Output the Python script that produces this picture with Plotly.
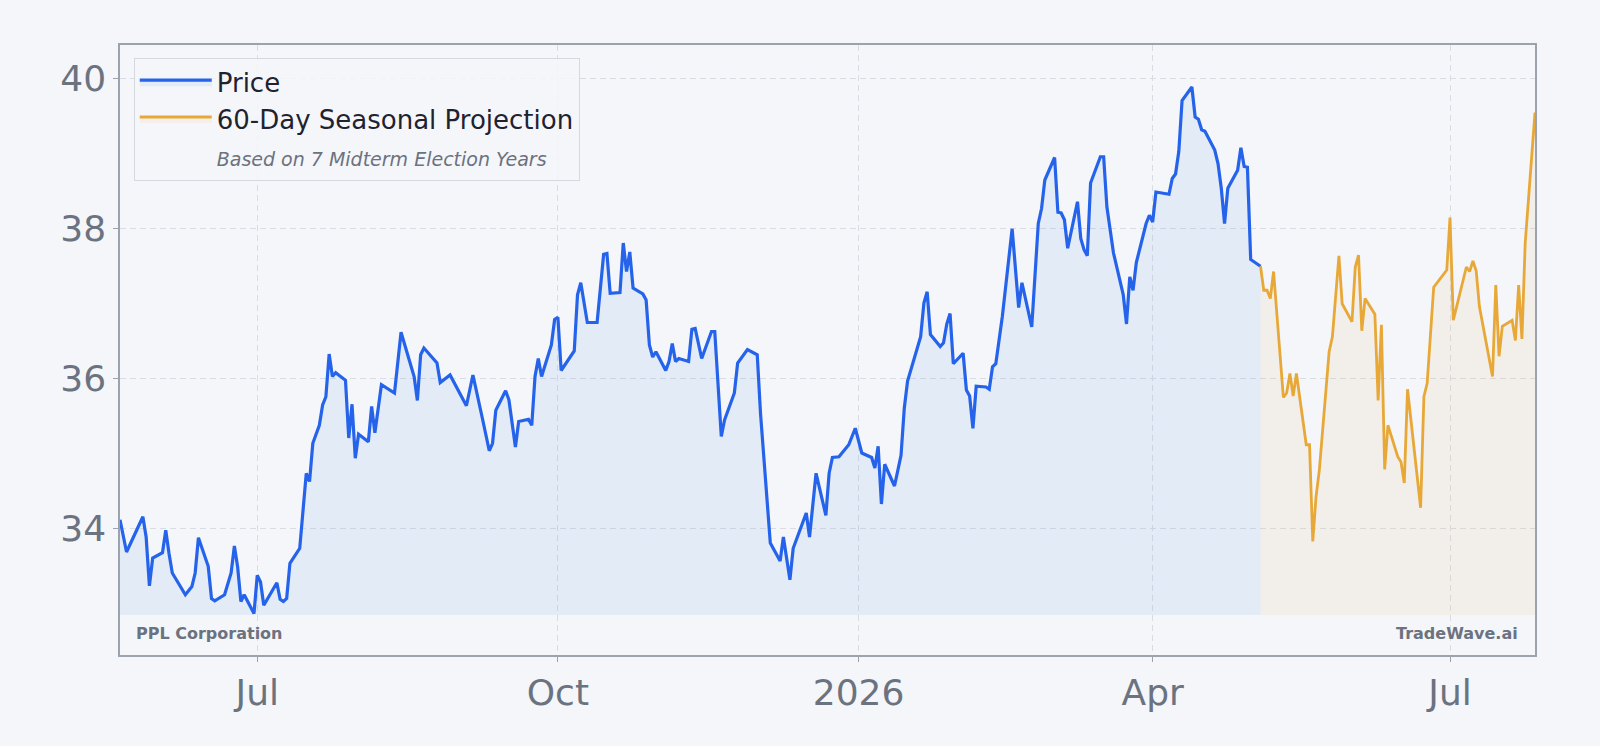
import plotly.graph_objects as go

# ---------------- data ----------------
price_dates = [
    "2025-05-20", "2025-05-22", "2025-05-27", "2025-05-28", "2025-05-29", "2025-05-30",
    "2025-06-02", "2025-06-03", "2025-06-04", "2025-06-05", "2025-06-09", "2025-06-11",
    "2025-06-12", "2025-06-13", "2025-06-16", "2025-06-17", "2025-06-18", "2025-06-21",
    "2025-06-23", "2025-06-24", "2025-06-25", "2025-06-26", "2025-06-27", "2025-06-30",
    "2025-07-01", "2025-07-02", "2025-07-03", "2025-07-07", "2025-07-08", "2025-07-09",
    "2025-07-10", "2025-07-11", "2025-07-14", "2025-07-15", "2025-07-16", "2025-07-17",
    "2025-07-18", "2025-07-20", "2025-07-21", "2025-07-22", "2025-07-23", "2025-07-24",
    "2025-07-25", "2025-07-28", "2025-07-29", "2025-07-30", "2025-07-31", "2025-08-01",
    "2025-08-04", "2025-08-05", "2025-08-06", "2025-08-08", "2025-08-11", "2025-08-12",
    "2025-08-14", "2025-08-18", "2025-08-19", "2025-08-20", "2025-08-21", "2025-08-25",
    "2025-08-26", "2025-08-29", "2025-09-03", "2025-09-05", "2025-09-08", "2025-09-10",
    "2025-09-11", "2025-09-12", "2025-09-15", "2025-09-16", "2025-09-18", "2025-09-19",
    "2025-09-22", "2025-09-23", "2025-09-24", "2025-09-25", "2025-09-26", "2025-09-29",
    "2025-09-30", "2025-10-01", "2025-10-02", "2025-10-06", "2025-10-07", "2025-10-08",
    "2025-10-10", "2025-10-13", "2025-10-15", "2025-10-16", "2025-10-17", "2025-10-20",
    "2025-10-21", "2025-10-22", "2025-10-23", "2025-10-24", "2025-10-27", "2025-10-28",
    "2025-10-29", "2025-10-30", "2025-10-31", "2025-11-03", "2025-11-04", "2025-11-05",
    "2025-11-06", "2025-11-07", "2025-11-10", "2025-11-11", "2025-11-12", "2025-11-14",
    "2025-11-17", "2025-11-18", "2025-11-20", "2025-11-21", "2025-11-24", "2025-11-25",
    "2025-11-28", "2025-12-01", "2025-12-02", "2025-12-05", "2025-12-08", "2025-12-09",
    "2025-12-11", "2025-12-12", "2025-12-16", "2025-12-17", "2025-12-19", "2025-12-22",
    "2025-12-23", "2025-12-24", "2025-12-26", "2025-12-29", "2025-12-31", "2026-01-02",
    "2026-01-05", "2026-01-06", "2026-01-07", "2026-01-08", "2026-01-09", "2026-01-12",
    "2026-01-14", "2026-01-15", "2026-01-16", "2026-01-20", "2026-01-21", "2026-01-22",
    "2026-01-23", "2026-01-26", "2026-01-27", "2026-01-28", "2026-01-29", "2026-01-30",
    "2026-02-02", "2026-02-03", "2026-02-04", "2026-02-05", "2026-02-06", "2026-02-09",
    "2026-02-10", "2026-02-11", "2026-02-12", "2026-02-14", "2026-02-17", "2026-02-19",
    "2026-02-20", "2026-02-23", "2026-02-25", "2026-02-26", "2026-02-27", "2026-03-02",
    "2026-03-03", "2026-03-04", "2026-03-05", "2026-03-06", "2026-03-09", "2026-03-10",
    "2026-03-11", "2026-03-12", "2026-03-13", "2026-03-16", "2026-03-17", "2026-03-18",
    "2026-03-20", "2026-03-23", "2026-03-24", "2026-03-25", "2026-03-26", "2026-03-27",
    "2026-03-30", "2026-03-31", "2026-04-01", "2026-04-02", "2026-04-06", "2026-04-07",
    "2026-04-08", "2026-04-09", "2026-04-10", "2026-04-13", "2026-04-14", "2026-04-15",
    "2026-04-16", "2026-04-17", "2026-04-20", "2026-04-21", "2026-04-22", "2026-04-23",
    "2026-04-24", "2026-04-27", "2026-04-28", "2026-04-29", "2026-04-30", "2026-05-01",
    "2026-05-04",
]
price_values = [
    34.11, 33.68, 34.15, 33.88, 33.23, 33.60,
    33.67, 33.97, 33.66, 33.40, 33.11, 33.22,
    33.40, 33.87, 33.49, 33.06, 33.03, 33.11,
    33.40, 33.76, 33.48, 33.02, 33.11, 32.86,
    33.37, 33.28, 32.97, 33.27, 33.05, 33.02,
    33.06, 33.53, 33.73, 34.20, 34.73, 34.62,
    35.13, 35.37, 35.64, 35.75, 36.32, 36.02,
    36.07, 35.97, 35.20, 35.65, 34.93, 35.25,
    35.15, 35.62, 35.27, 35.91, 35.83, 35.80,
    36.61, 36.02, 35.70, 36.31, 36.40, 36.20,
    35.94, 36.04, 35.63, 36.04, 35.44, 35.03,
    35.13, 35.57, 35.83, 35.71, 35.08, 35.42,
    35.45, 35.37, 36.02, 36.26, 36.02, 36.44,
    36.78, 36.81, 36.10, 36.36, 37.11, 37.27,
    36.74, 36.74, 37.65, 37.66, 37.13, 37.14,
    37.80, 37.42, 37.68, 37.20, 37.12, 37.04,
    36.44, 36.28, 36.35, 36.10, 36.22, 36.46,
    36.22, 36.26, 36.22, 36.65, 36.66, 36.26,
    36.62, 36.62, 35.22, 35.44, 35.80, 36.20,
    36.38, 36.31, 35.53, 33.80, 33.56, 33.88,
    33.31, 33.73, 34.20, 33.88, 34.73, 34.17,
    34.73, 34.94, 34.95, 35.11, 35.33, 35.00,
    34.94, 34.80, 35.09, 34.32, 34.85, 34.56,
    34.97, 35.60, 35.96, 36.55, 37.00, 37.15,
    36.58, 36.42, 36.47, 36.72, 36.86, 36.19,
    36.33, 35.84, 35.76, 35.33, 35.89, 35.88,
    35.85, 36.15, 36.19, 36.82, 37.99, 36.94,
    37.27, 36.68, 38.06, 38.26, 38.64, 38.94,
    38.21, 38.20, 38.11, 37.73, 38.35, 37.86,
    37.71, 37.63, 38.60, 38.95, 38.95, 38.28,
    37.67, 37.11, 36.72, 37.35, 37.17, 37.54,
    38.06, 38.17, 38.08, 38.48, 38.45, 38.66,
    38.72, 39.02, 39.70, 39.88, 39.48, 39.45,
    39.31, 39.29, 39.04, 38.86, 38.53, 38.06,
    38.53, 38.77, 39.07, 38.82, 38.81, 37.58,
    37.49,
]

proj_dates = [
    "2026-05-04", "2026-05-05", "2026-05-06", "2026-05-07", "2026-05-08", "2026-05-11",
    "2026-05-12", "2026-05-13", "2026-05-14", "2026-05-15", "2026-05-18", "2026-05-19",
    "2026-05-20", "2026-05-21", "2026-05-22", "2026-05-25", "2026-05-26", "2026-05-28",
    "2026-05-29", "2026-06-01", "2026-06-02", "2026-06-03", "2026-06-04", "2026-06-05",
    "2026-06-08", "2026-06-09", "2026-06-10", "2026-06-11", "2026-06-12", "2026-06-15",
    "2026-06-16", "2026-06-17", "2026-06-18", "2026-06-22", "2026-06-23", "2026-06-24",
    "2026-06-26", "2026-06-30", "2026-07-01", "2026-07-02", "2026-07-06", "2026-07-07",
    "2026-07-08", "2026-07-09", "2026-07-10", "2026-07-14", "2026-07-15", "2026-07-16",
    "2026-07-17", "2026-07-20", "2026-07-21", "2026-07-22", "2026-07-23", "2026-07-24",
    "2026-07-27",
]
proj_values = [
    37.49, 37.17, 37.17, 37.06, 37.42, 35.74,
    35.80, 36.06, 35.76, 36.06, 35.11, 35.11,
    33.82, 34.42, 34.77, 36.35, 36.55, 37.63,
    36.99, 36.75, 37.48, 37.64, 36.63, 37.06,
    36.85, 35.70, 36.71, 34.78, 35.37, 34.95,
    34.88, 34.60, 35.85, 34.27, 35.75, 35.93,
    37.21, 37.44, 38.14, 36.77, 37.48, 37.42,
    37.56, 37.43, 36.95, 36.02, 37.24, 36.29,
    36.69, 36.77, 36.50, 37.24, 36.52, 37.80,
    39.54,
]

tick_dates = ["2025-07-01", "2025-10-01", "2026-01-01", "2026-04-01", "2026-07-01"]
tick_labels = ["Jul", "Oct", "2026", "Apr", "Jul"]
y_ticks = [34, 36, 38, 40]

company = "PPL Corporation"
brand = "TradeWave.ai"
price_name = "Price"
proj_name = "60-Day Seasonal Projection"
proj_note = "Based on 7 Midterm Election Years"

# ---------------- style ----------------
FONT = "DejaVu Sans"
BG = "#F4F6F9"
BLUE = "#2563EB"
GOLD = "#E8A838"
GRID = "#D9DDE3"
TICKC = "#6B7280"

fill_floor = min(price_values + proj_values) - 0.02

fig = go.Figure()

# baseline for price fill
fig.add_trace(go.Scatter(x=price_dates, y=[fill_floor] * len(price_dates), mode="lines",
                         line=dict(width=0, color="rgba(0,0,0,0)"), showlegend=False,
                         hoverinfo="skip"))
fig.add_trace(go.Scatter(x=price_dates, y=price_values, mode="lines", name=price_name,
                         line=dict(color=BLUE, width=3.2), fill="tonexty",
                         fillcolor="rgba(80,150,230,0.11)"))
# baseline for projection fill
fig.add_trace(go.Scatter(x=proj_dates, y=[fill_floor] * len(proj_dates), mode="lines",
                         line=dict(width=0, color="rgba(0,0,0,0)"), showlegend=False,
                         hoverinfo="skip"))
fig.add_trace(go.Scatter(x=proj_dates, y=proj_values, mode="lines", name=proj_name,
                         line=dict(color=GOLD, width=2.8), fill="tonexty",
                         fillcolor="rgba(232,168,80,0.08)"))
# note entry in legend
fig.add_trace(go.Scatter(x=[proj_dates[0]], y=[proj_values[0]], mode="lines",
                         name=f'<span style="font-size:19px;color:#6B7280"><i>{proj_note}</i></span>',
                         line=dict(color="rgba(0,0,0,0)", width=0), hoverinfo="skip"))

fig.update_layout(
    width=1600, height=746,
    margin=dict(l=120, r=65, t=45, b=91),
    paper_bgcolor=BG, plot_bgcolor=BG,
    font=dict(family=FONT, color=TICKC),
    showlegend=True,
    legend=dict(
        x=0.0097, y=0.979, xanchor="left", yanchor="top",
        bgcolor="rgba(244,246,249,0.85)", bordercolor="#D5D9DF", borderwidth=1,
        font=dict(family=FONT, size=26, color="#1F2330"),
        itemwidth=72, traceorder="normal",
    ),
    xaxis=dict(
        type="date",
        range=[price_dates[0], proj_dates[-1]],
        tickvals=tick_dates, ticktext=tick_labels,
        tickfont=dict(family=FONT, size=36, color=TICKC),
        showgrid=True, gridcolor=GRID, gridwidth=1, griddash="6px,4px",
        showline=True, linecolor="#9CA3AF", linewidth=1.5, mirror=True,
        ticks="outside", ticklen=5, tickcolor="#9CA3AF",
        zeroline=False,
    ),
    yaxis=dict(
        range=[32.307, 40.44],
        tickvals=y_ticks,
        tickfont=dict(family=FONT, size=36, color=TICKC),
        showgrid=True, gridcolor=GRID, gridwidth=1, griddash="6px,4px",
        showline=True, linecolor="#9CA3AF", linewidth=1.5, mirror=True,
        ticks="outside", ticklen=5, tickcolor="#9CA3AF",
        zeroline=False,
    ),
    annotations=[
        dict(text=f"<b>{company}</b>", xref="paper", yref="paper", x=0.0102, y=0.035,
             xanchor="left", yanchor="middle", showarrow=False,
             font=dict(family=FONT, size=16, color=TICKC)),
        dict(text=f"<b>{brand}</b>", xref="paper", yref="paper", x=0.9895, y=0.035,
             xanchor="right", yanchor="middle", showarrow=False,
             font=dict(family=FONT, size=16, color=TICKC)),
    ],
)

fig.write_html("out.html")
